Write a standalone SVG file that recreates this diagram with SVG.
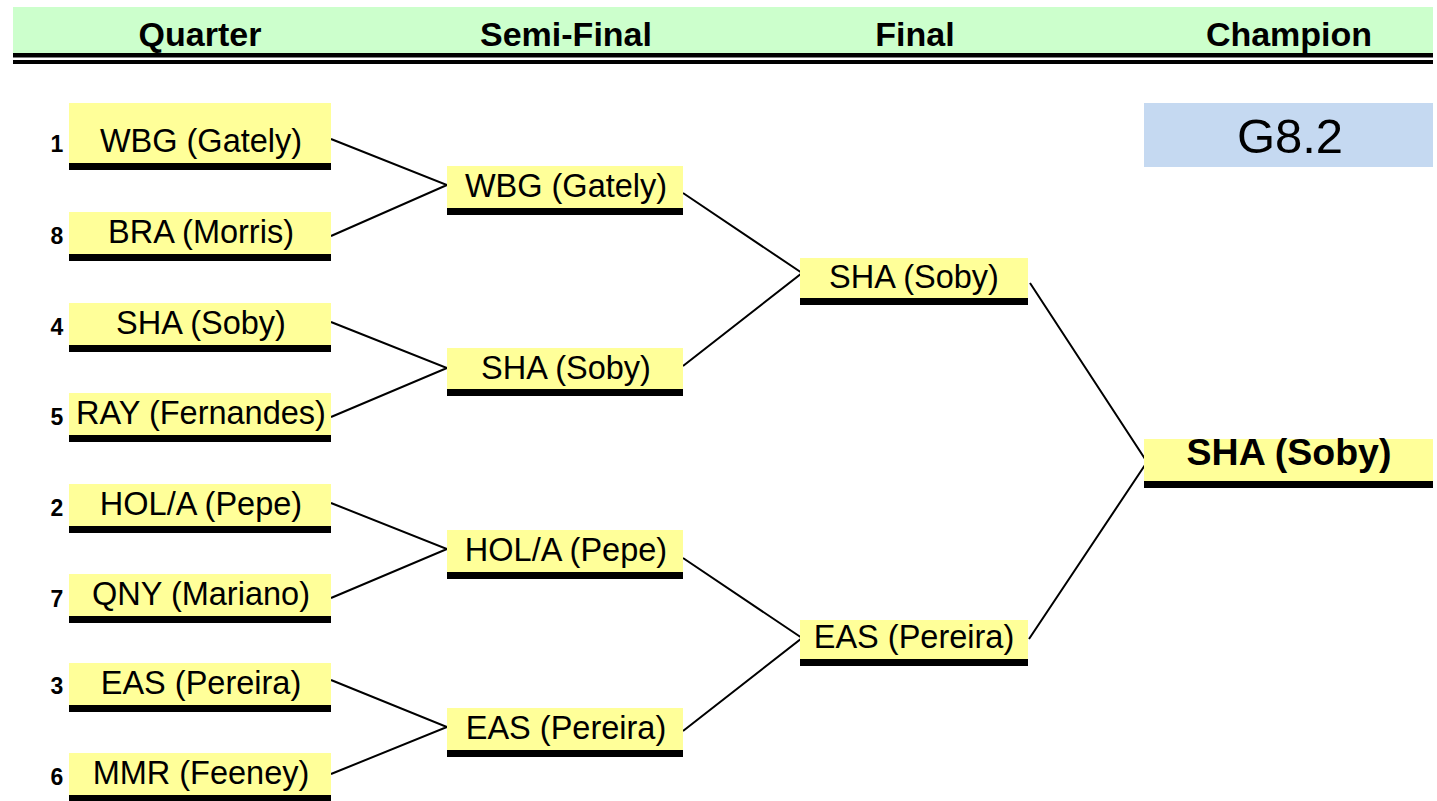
<svg xmlns="http://www.w3.org/2000/svg" width="1437" height="801" viewBox="0 0 1437 801">
<style>
.hdr{font-family:"Liberation Sans",Arial,sans-serif;font-weight:bold;font-size:34px;fill:#000;text-anchor:middle}
.nm{font-family:"Liberation Sans",Arial,sans-serif;font-size:32.5px;fill:#000;text-anchor:middle}
.seed{font-family:"Liberation Sans",Arial,sans-serif;font-weight:bold;font-size:23px;fill:#000;text-anchor:middle}
.box{fill:#ffff99}
.bar{fill:#000}
.conn{fill:none;stroke:#000;stroke-width:2}
</style>
<rect width="1437" height="801" fill="#fff"/>
<g id="header">
<rect x="13" y="7" width="1420" height="46" fill="#ccffcc"/>
<rect x="13" y="53" width="1420" height="4.5" fill="#000"/>
<rect x="13" y="60" width="1420" height="4" fill="#000"/>
<text class="hdr" x="200" y="46">Quarter</text>
<text class="hdr" x="566" y="46">Semi-Final</text>
<text class="hdr" x="915" y="46">Final</text>
<text class="hdr" x="1289" y="46">Champion</text>
</g>
<g id="connectors">
<polyline class="conn" points="331,139 447,185 331,236"/>
<polyline class="conn" points="331,322 447,368 331,417"/>
<polyline class="conn" points="331,503 447,549 331,598"/>
<polyline class="conn" points="331,680 447,727 331,774"/>
<polyline class="conn" points="683,193 802,273 683,366"/>
<polyline class="conn" points="683,558 802,638 683,731"/>
<polyline class="conn" points="1030,283 1147,462 1029,639"/>
</g>
<g id="q1"><rect class="box" x="69" y="103" width="262" height="60"/><rect class="bar" x="69" y="163" width="262" height="7"/><text class="seed" x="57" y="152">1</text><text class="nm" x="201" y="152">WBG (Gately)</text></g>
<g id="q2"><rect class="box" x="69" y="212" width="262" height="42"/><rect class="bar" x="69" y="254" width="262" height="7"/><text class="seed" x="57" y="244">8</text><text class="nm" x="201" y="243">BRA (Morris)</text></g>
<g id="q3"><rect class="box" x="69" y="303" width="262" height="42"/><rect class="bar" x="69" y="345" width="262" height="7"/><text class="seed" x="57" y="335">4</text><text class="nm" x="201" y="334">SHA (Soby)</text></g>
<g id="q4"><rect class="box" x="69" y="393" width="262" height="42"/><rect class="bar" x="69" y="435" width="262" height="7"/><text class="seed" x="57" y="425">5</text><text class="nm" x="201" y="424">RAY (Fernandes)</text></g>
<g id="q5"><rect class="box" x="69" y="484" width="262" height="42"/><rect class="bar" x="69" y="526" width="262" height="7"/><text class="seed" x="57" y="516">2</text><text class="nm" x="201" y="515">HOL/A (Pepe)</text></g>
<g id="q6"><rect class="box" x="69" y="574" width="262" height="42"/><rect class="bar" x="69" y="616" width="262" height="7"/><text class="seed" x="57" y="607">7</text><text class="nm" x="201" y="605">QNY (Mariano)</text></g>
<g id="q7"><rect class="box" x="69" y="663" width="262" height="42"/><rect class="bar" x="69" y="705" width="262" height="7"/><text class="seed" x="57" y="694">3</text><text class="nm" x="201" y="694">EAS (Pereira)</text></g>
<g id="q8"><rect class="box" x="69" y="753" width="262" height="42"/><rect class="bar" x="69" y="795" width="262" height="6"/><text class="seed" x="57" y="785">6</text><text class="nm" x="201" y="784">MMR (Feeney)</text></g>
<g id="s1"><rect class="box" x="447" y="166" width="236" height="42"/><rect class="bar" x="447" y="208" width="236" height="7"/><text class="nm" x="566" y="197">WBG (Gately)</text></g>
<g id="s2"><rect class="box" x="447" y="348" width="236" height="41"/><rect class="bar" x="447" y="389" width="236" height="7"/><text class="nm" x="566" y="379">SHA (Soby)</text></g>
<g id="s3"><rect class="box" x="447" y="530" width="236" height="42"/><rect class="bar" x="447" y="572" width="236" height="7"/><text class="nm" x="566" y="561">HOL/A (Pepe)</text></g>
<g id="s4"><rect class="box" x="447" y="708" width="236" height="42"/><rect class="bar" x="447" y="750" width="236" height="7"/><text class="nm" x="566" y="739">EAS (Pereira)</text></g>
<g id="f1"><rect class="box" x="800" y="258" width="228" height="40"/><rect class="bar" x="800" y="298" width="228" height="7"/><text class="nm" x="914" y="288">SHA (Soby)</text></g>
<g id="f2"><rect class="box" x="800" y="620" width="228" height="39"/><rect class="bar" x="800" y="659" width="228" height="7"/><text class="nm" x="914" y="648">EAS (Pereira)</text></g>
<g id="champion"><rect class="box" x="1144" y="439" width="289" height="42"/><rect class="bar" x="1144" y="481" width="289" height="7"/><text x="1289" y="465" font-family="Liberation Sans, Arial, sans-serif" font-weight="bold" font-size="37.5" text-anchor="middle" fill="#000">SHA (Soby)</text></g>
<g id="g82"><rect x="1144" y="103" width="289" height="64" fill="#c5d9f1"/><text x="1290" y="153" font-family="Liberation Sans, Arial, sans-serif" font-size="49" text-anchor="middle" fill="#000">G8.2</text></g>
</svg>
